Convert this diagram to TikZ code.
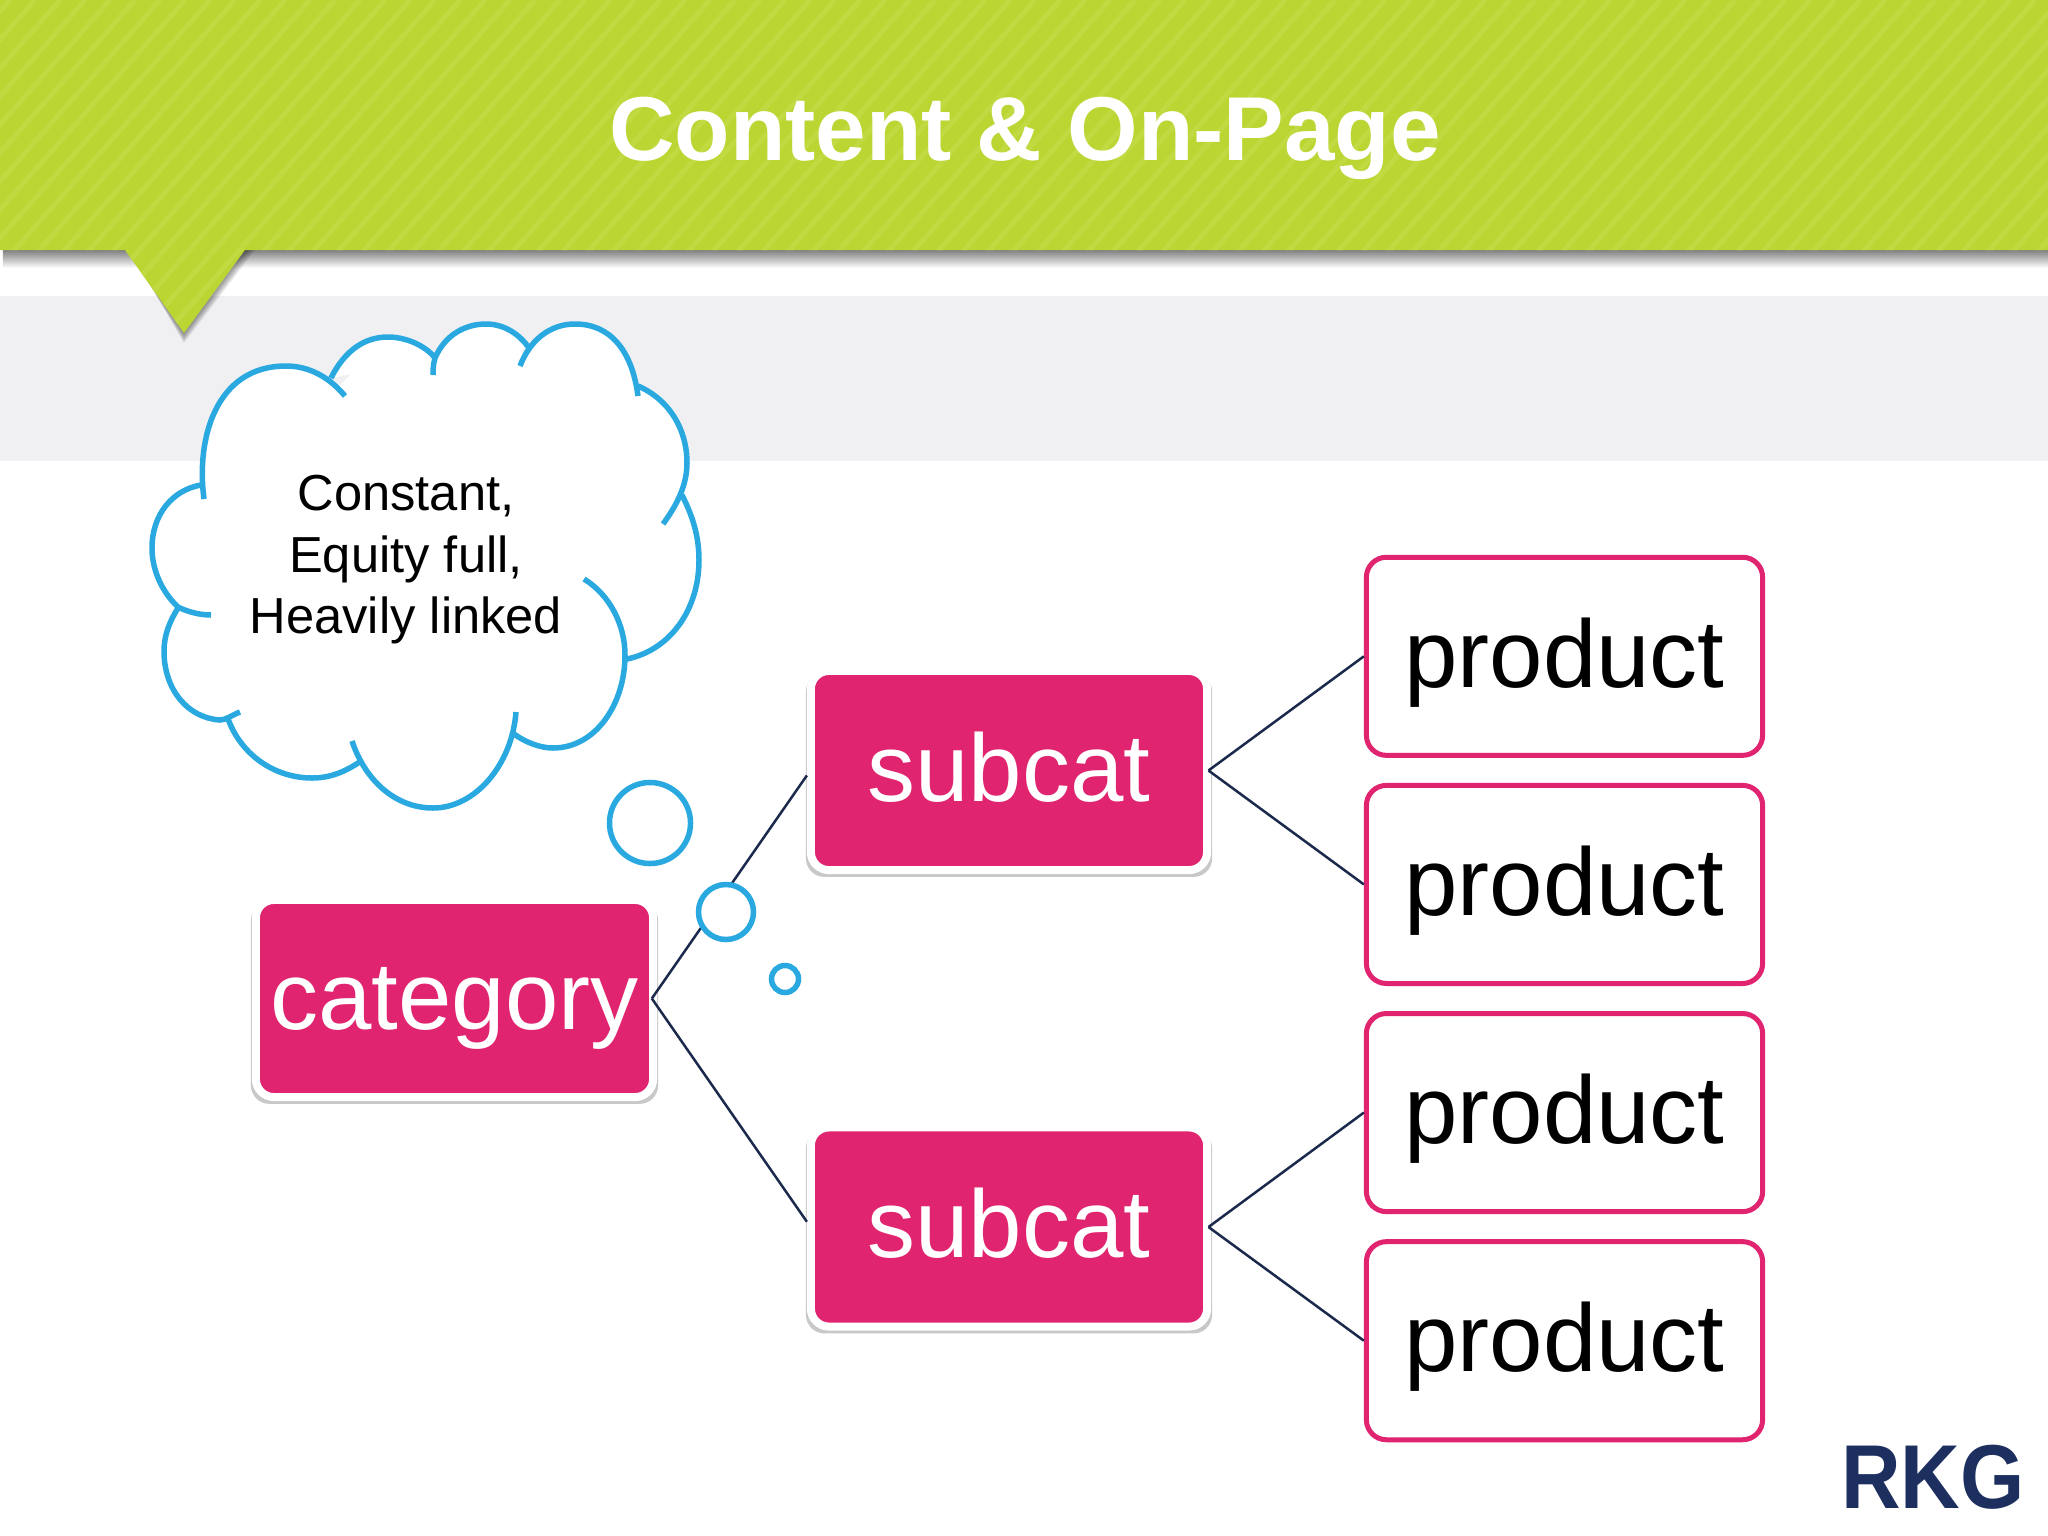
\documentclass[tikz,border=0pt]{standalone}
\usepackage{fontspec}
\setmainfont{Liberation Sans}
\usetikzlibrary{positioning, shadows}
\definecolor{lime}{HTML}{BBD633}
\definecolor{limelight}{HTML}{C2DA42}
\definecolor{bandgray}{HTML}{F0F0F2}
\definecolor{rose}{HTML}{E0246F}
\definecolor{sky}{HTML}{29A9E0}
\definecolor{navy}{HTML}{1B2A4C}
\definecolor{logoblue}{HTML}{1C2F5F}
\tikzset{
    %Define style for filled boxes
    pinkbox/.style={
           rectangle,
           rounded corners=.18cm,
           draw=white, line width=.08cm,
           fill=rose,
           text=white,
           inner sep=0pt,
           text height=.614cm,
           text depth=0pt,
           font=\fontsize{27.3}{30}\selectfont,
           drop shadow={shadow scale=1.025, shadow xshift=0pt, shadow yshift=-1.2pt, opacity=.3, fill=black!70}},
    %Define style for outlined boxes
    prodbox/.style={
           rectangle,
           rounded corners=.2cm,
           draw=rose, line width=.05cm,
           fill=white,
           minimum width=3.96cm,
           minimum height=1.98cm,
           inner sep=0pt,
           text height=.614cm,
           text depth=0pt,
           font=\fontsize{27.3}{30}\selectfont},
    % Define connector style
    lien/.style={
           draw=navy,
           line width=.025cm},
    % Define cloud line and bubbles
    cloudline/.style={draw=sky, line width=.055cm},
    bubble/.style={circle, cloudline, fill=white, inner sep=0pt}
}
\newcommand{\cloudarcs}{
  (204,499) .. controls (196,440) and (215,366) .. (286,366) .. controls (310,366) and (330,378) .. (345,396)
  (331,378) .. controls (345,350) and (365,337) .. (388,337) .. controls (405,337) and (425,345) .. (435,358)
  (433,375) .. controls (433,365) and (434,362) .. (435,358) .. controls (445,335) and (465,324) .. (486,324) .. controls (505,324) and (520,335) .. (529,348)
  (520,366) .. controls (530,340) and (550,324) .. (575,324) .. controls (610,324) and (632,350) .. (638,396)
  (638,386) .. controls (670,400) and (687,430) .. (687,463) .. controls (687,485) and (677,505) .. (663,524)
  (682,495) .. controls (692,515) and (699,535) .. (699,560) .. controls (699,610) and (670,650) .. (627,659)
  (584,579) .. controls (610,595) and (625,625) .. (625,655) .. controls (625,705) and (595,748) .. (553,748) .. controls (540,748) and (525,742) .. (514,734)
  (516,712) .. controls (512,765) and (475,808) .. (433,808) .. controls (395,808) and (365,780) .. (352,741)
  (361,761) .. controls (345,772) and (330,778) .. (312,778) .. controls (275,778) and (240,755) .. (227,716)
  (240,712) .. controls (232,715) and (226,720) .. (220,720) .. controls (188,718) and (164,690) .. (164,651) .. controls (164,635) and (170,620) .. (180,605)
  (211,615) .. controls (200,615) and (188,612) .. (178,607) .. controls (162,592) and (152,570) .. (152,548) .. controls (152,515) and (172,490) .. (201,485)
}
\begin{document}
\begin{tikzpicture}[x=.01cm, y=-.01cm]
	\useasboundingbox (0,0) rectangle (2048,1536);
	\fill[white] (0,0) rectangle (2048,1536);
	%
	% bandeau
	%
	\fill[bandgray] (0,296) rectangle (2048,461);
	\shade[top color=black!50, bottom color=white] (3,250) rectangle (2048,268);
	\foreach \i in {2,4,...,10}
		\fill[black, opacity=.09] (125+\i/2,250) -- (184,333+\i) -- (245+\i,250) -- cycle;
	\fill[lime] (0,0) -- (2048,0) -- (2048,250) -- (245,250) -- (184,333) -- (125,250) -- (0,250) -- cycle;
	\begin{scope}
		\clip (0,0) -- (2048,0) -- (2048,250) -- (245,250) -- (184,333) -- (125,250) -- (0,250) -- cycle;
		\foreach \x in {-340,-315,...,2060}
			\draw[limelight, line width=.05cm] (\x,340) -- (\x+300,0);
	\end{scope}
	\node[text=white, font=\bfseries\fontsize{25.8}{28}\selectfont] (titre) at (1025,138) {Content \& On-Page};
	%
	% nuage
	%
	\fill[white] (204,499) -- (286,366) -- (338,387) -- (388,337) -- (433,358) -- (486,324) -- (525,355) -- (575,324)
		-- (638,390) -- (687,463) -- (680,497) -- (699,560) -- (627,659) -- (553,748) -- (514,725) -- (433,808)
		-- (356,750) -- (312,778) -- (230,714) -- (164,651) -- (180,605) -- (152,548) -- (201,485) -- cycle;
	\fill[white] \cloudarcs;
	\draw[cloudline] \cloudarcs;
	\node[align=center, font=\fontsize{14.4}{17.5}\selectfont] (nuage) at (406,560) {Constant,\\Equity full,\\Heavily linked};
	%
	% noeuds
	%
	\node[pinkbox, minimum width=3.97cm, minimum height=1.97cm] (category) at (454.5,998.5) {category};
	\node[pinkbox, minimum width=3.96cm, minimum height=1.99cm] (subcatA) at (1009,770.5) {subcat};
	\node[pinkbox, minimum width=3.96cm, minimum height=1.99cm] (subcatB) at (1009,1227) {subcat};
	\node[prodbox] (prodA) at (1564.5,656.3) {product};
	\node[prodbox, below=.25cm of prodA] (prodB) {product};
	\node[prodbox, below=.25cm of prodB] (prodC) {product};
	\node[prodbox, below=.25cm of prodC] (prodD) {product};
	%
	% liens
	%
	\draw[lien] ([xshift=-1.5pt]category.east) -- ([yshift=-1.4pt]subcatA.west);
	\draw[lien] ([xshift=-1.5pt]category.east) -- ([yshift=1.5pt]subcatB.west);
	\draw[lien] ([xshift=-.75pt]subcatA.east) -- (prodA.west);
	\draw[lien] ([xshift=-.75pt]subcatA.east) -- (prodB.west);
	\draw[lien] ([xshift=-.75pt]subcatB.east) -- (prodC.west);
	\draw[lien] ([xshift=-.75pt]subcatB.east) -- (prodD.west);
	%
	% bulles
	%
	\node[bubble, minimum size=.81cm] (bulleA) at (650,823) {};
	\node[bubble, minimum size=.55cm] (bulleB) at (726,912) {};
	\node[bubble, minimum size=.27cm] (bulleC) at (785,979) {};
	%
	% logo
	%
	\node[text=logoblue, font=\bfseries\fontsize{25.8}{28}\selectfont] (logo) at (1933,1477) {\scalebox{.91}[1]{RKG}};
\end{tikzpicture}
\end{document}
